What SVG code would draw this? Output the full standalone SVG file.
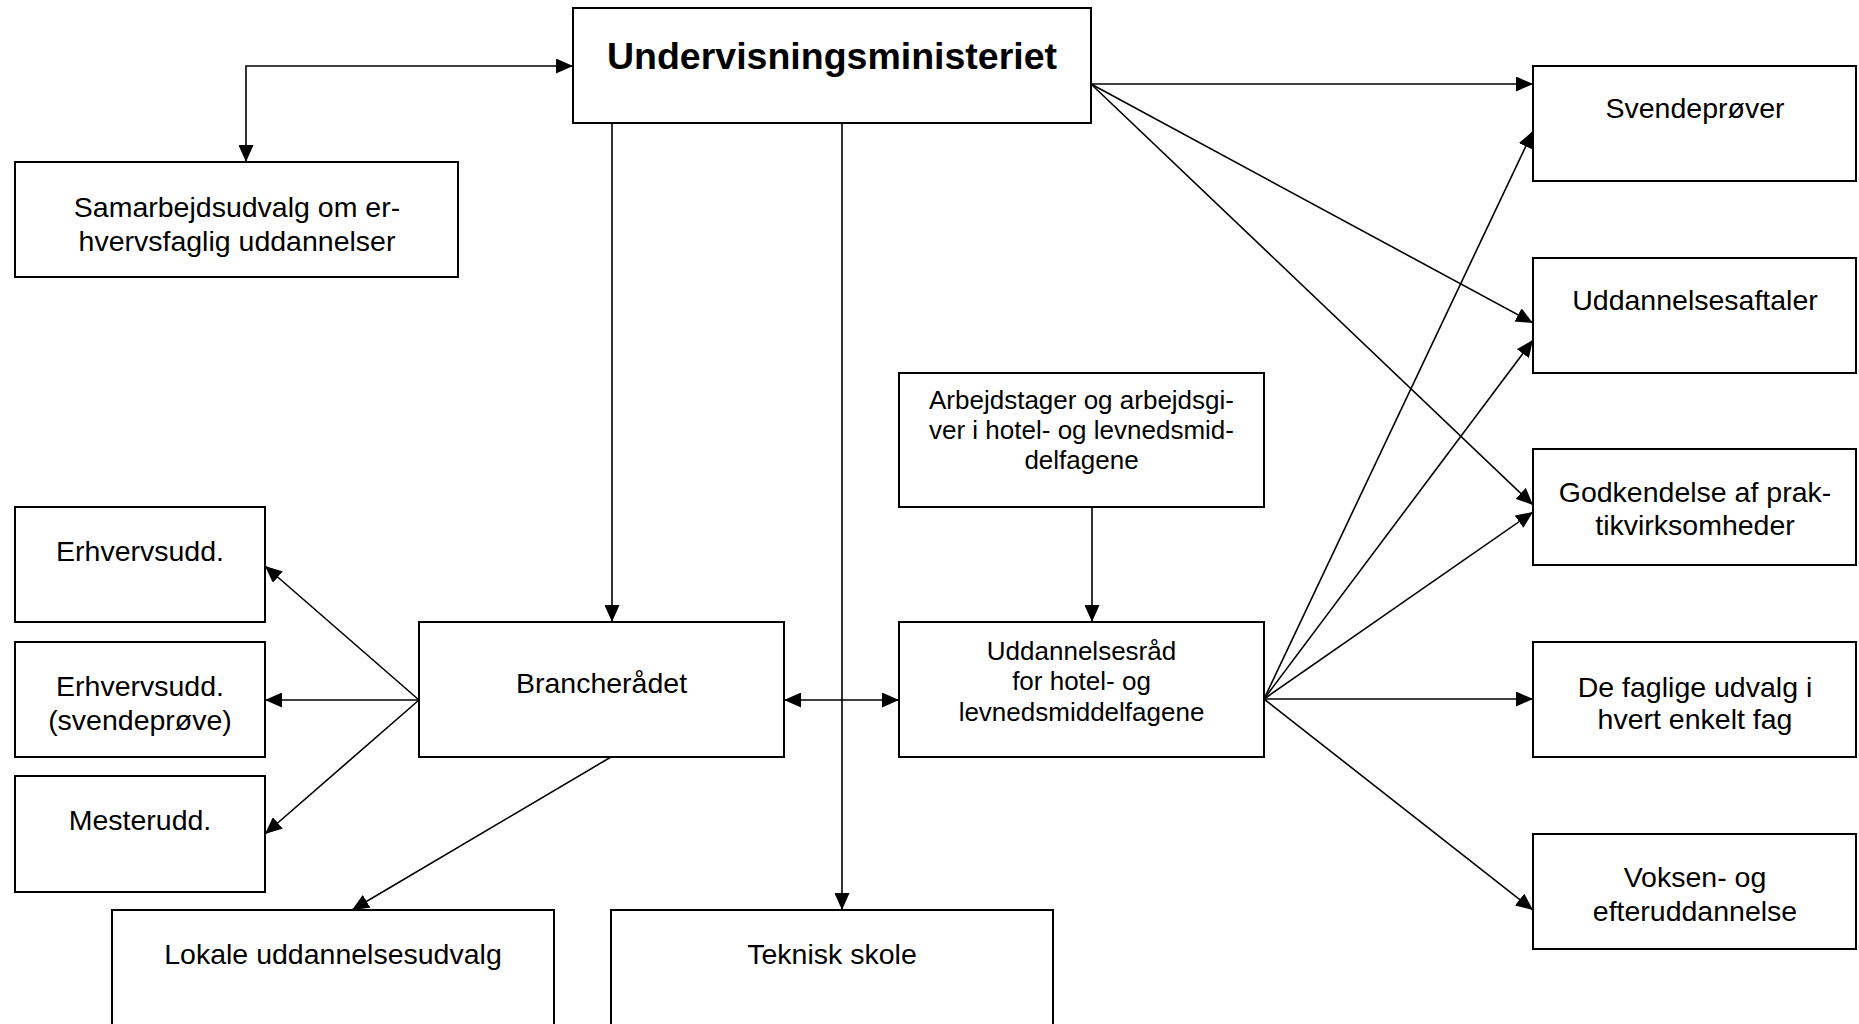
<svg xmlns="http://www.w3.org/2000/svg" width="1859" height="1024" viewBox="0 0 1859 1024">
<defs>
<style>
.box{fill:#fff;stroke:#000;stroke-width:2}
.t{font-family:"Liberation Sans",Arial,sans-serif;font-size:28.5px;fill:#000;text-anchor:middle}
.s{font-size:26px}
.title{font-size:37.5px;font-weight:bold}
.c{fill:none;stroke:#000;stroke-width:1.6}
</style>
<marker id="ah" viewBox="0 0 17 15" refX="17" refY="7.5" markerWidth="17" markerHeight="15" markerUnits="userSpaceOnUse" orient="auto-start-reverse">
<path d="M0,0 L17,7.5 L0,15 Z" fill="#000"/>
</marker>
</defs>
<rect width="1859" height="1024" fill="#fff"/>
<g id="connectors">
<path class="c" d="M573,66 H246 V162" marker-start="url(#ah)" marker-end="url(#ah)"/>
<path class="c" d="M612,123 V622" marker-end="url(#ah)"/>
<path class="c" d="M842,123 V910" marker-end="url(#ah)"/>
<path class="c" d="M1091,84 L1533,84" marker-end="url(#ah)"/>
<path class="c" d="M1091,84 L1533,323" marker-end="url(#ah)"/>
<path class="c" d="M1091,84 L1533,505" marker-end="url(#ah)"/>
<path class="c" d="M1092,507 V622" marker-end="url(#ah)"/>
<path class="c" d="M784,700 H899" marker-start="url(#ah)" marker-end="url(#ah)"/>
<path class="c" d="M419,700 L265,566" marker-end="url(#ah)"/>
<path class="c" d="M419,700 L265,700" marker-end="url(#ah)"/>
<path class="c" d="M419,700 L265,834" marker-end="url(#ah)"/>
<path class="c" d="M611,757 L352,910" marker-end="url(#ah)"/>
<path class="c" d="M1264,699 L1533,131" marker-end="url(#ah)"/>
<path class="c" d="M1264,699 L1533,340" marker-end="url(#ah)"/>
<path class="c" d="M1264,699 L1533,512" marker-end="url(#ah)"/>
<path class="c" d="M1264,699 L1533,699" marker-end="url(#ah)"/>
<path class="c" d="M1264,699 L1533,910" marker-end="url(#ah)"/>
</g>
<g id="ministeriet"><rect class="box" x="573" y="8" width="518" height="115"/><text class="t title" x="832" y="69">Undervisningsministeriet</text></g>
<g id="samarbejdsudvalg"><rect class="box" x="15" y="162" width="443" height="115"/><text class="t" x="237" y="217">Samarbejdsudvalg om er-</text><text class="t" x="237" y="251">hvervsfaglig uddannelser</text></g>
<g id="svendeproever"><rect class="box" x="1533" y="66" width="323" height="115"/><text class="t" x="1695" y="118">Svendeprøver</text></g>
<g id="uddannelsesaftaler"><rect class="box" x="1533" y="258" width="323" height="115"/><text class="t" x="1695" y="310">Uddannelsesaftaler</text></g>
<g id="godkendelse"><rect class="box" x="1533" y="449" width="323" height="116"/><text class="t" x="1695" y="502">Godkendelse af prak-</text><text class="t" x="1695" y="535">tikvirksomheder</text></g>
<g id="faglige-udvalg"><rect class="box" x="1533" y="642" width="323" height="115"/><text class="t" x="1695" y="697">De faglige udvalg i</text><text class="t" x="1695" y="729">hvert enkelt fag</text></g>
<g id="voksen"><rect class="box" x="1533" y="834" width="323" height="115"/><text class="t" x="1695" y="887">Voksen- og</text><text class="t" x="1695" y="921">efteruddannelse</text></g>
<g id="arbejdstager"><rect class="box" x="899" y="373" width="365" height="134"/><text class="t s" x="1081.5" y="409">Arbejdstager og arbejdsgi-</text><text class="t s" x="1081.5" y="439">ver i hotel- og levnedsmid-</text><text class="t s" x="1081.5" y="469">delfagene</text></g>
<g id="uddannelsesraad"><rect class="box" x="899" y="622" width="365" height="135"/><text class="t s" x="1081.5" y="659.5">Uddannelsesråd</text><text class="t s" x="1081.5" y="690">for hotel- og</text><text class="t s" x="1081.5" y="721">levnedsmiddelfagene</text></g>
<g id="brancheraadet"><rect class="box" x="419" y="622" width="365" height="135"/><text class="t" x="601.5" y="693">Brancherådet</text></g>
<g id="erhvervsudd"><rect class="box" x="15" y="507" width="250" height="115"/><text class="t" x="140" y="561">Erhvervsudd.</text></g>
<g id="erhvervsudd-svende"><rect class="box" x="15" y="642" width="250" height="115"/><text class="t" x="140" y="696">Erhvervsudd.</text><text class="t" x="140" y="730">(svendeprøve)</text></g>
<g id="mesterudd"><rect class="box" x="15" y="776" width="250" height="116"/><text class="t" x="140" y="830">Mesterudd.</text></g>
<g id="lokale"><rect class="box" x="112" y="910" width="442" height="130"/><text class="t" x="333" y="964">Lokale uddannelsesudvalg</text></g>
<g id="teknisk"><rect class="box" x="611" y="910" width="442" height="130"/><text class="t" x="832" y="964">Teknisk skole</text></g>
</svg>
